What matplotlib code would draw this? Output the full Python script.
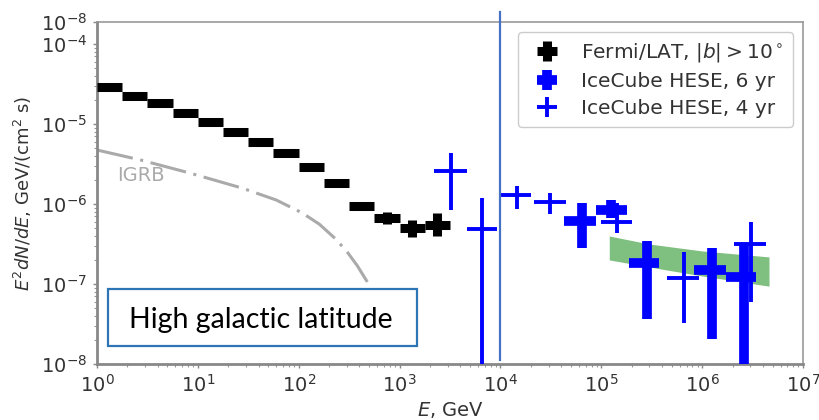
import matplotlib
matplotlib.use('Agg')
import matplotlib.pyplot as plt
import numpy as np
from matplotlib.patches import Rectangle
import matplotlib.transforms as mtransforms

# ---------------- data ----------------
# Fermi/LAT |b|>10 deg  (energy bin edges in GeV, flux E^2 dN/dE in GeV/(cm^2 s))
fermi_E_lo = [1.0, 1.78, 3.16, 5.62, 10.0, 17.8, 31.6, 56.2, 100, 178, 316, 562, 1000, 1780]
fermi_E_hi = [1.78, 3.16, 5.62, 10.0, 17.8, 31.6, 56.2, 100, 178, 316, 562, 1000, 1780, 3160]
fermi_flux = [2.9e-5, 2.24e-5, 1.82e-5, 1.38e-5, 1.06e-5, 7.9e-6, 5.96e-6, 4.36e-6,
              2.9e-6, 1.83e-6, 9.4e-7, 6.7e-7, 5.0e-7, 5.5e-7]
fermi_lo = [2.83e-5, 2.18e-5, 1.77e-5, 1.34e-5, 1.03e-5, 7.7e-6, 5.8e-6, 4.24e-6,
            2.82e-6, 1.77e-6, 9.0e-7, 5.7e-7, 3.9e-7, 3.96e-7]
fermi_hi = [2.97e-5, 2.3e-5, 1.87e-5, 1.42e-5, 1.09e-5, 8.1e-6, 6.1e-6, 4.48e-6,
            2.98e-6, 1.89e-6, 9.8e-7, 7.9e-7, 6.4e-7, 7.7e-7]

# IceCube HESE 6 yr
hese6_E = [6.5e4, 1.26e5, 2.85e5, 1.26e6, 2.6e6]
hese6_E_lo = [4.3e4, 8.9e4, 1.9e5, 8.3e5, 1.73e6]
hese6_E_hi = [8.9e4, 1.78e5, 3.7e5, 1.73e6, 3.4e6]
hese6_flux = [6.2e-7, 8.4e-7, 1.83e-7, 1.5e-7, 1.22e-7]
hese6_lo = [2.82e-7, 6.7e-7, 3.65e-8, 2.05e-8, 1e-9]
hese6_hi = [1.03e-6, 1.12e-6, 3.45e-7, 2.82e-7, 3.25e-7]

# IceCube HESE 4 yr
hese4_E = [3.27e3, 6.6e3, 1.47e4, 3.13e4, 1.44e5, 6.6e5, 3.05e6]
hese4_E_lo = [2.2e3, 4.7e3, 1.02e4, 2.17e4, 1.0e5, 4.5e5, 2.09e6]
hese4_E_hi = [4.7e3, 9.3e3, 2.03e4, 4.5e4, 2.03e5, 9.3e5, 4.27e6]
hese4_flux = [2.58e-6, 4.87e-7, 1.3e-6, 1.06e-6, 5.96e-7, 1.2e-7, 3.16e-7]
hese4_lo = [8.4e-7, 1e-9, 8.66e-7, 7.5e-7, 4.34e-7, 3.25e-8, 5.96e-8]
hese4_hi = [4.34e-6, 1.19e-6, 1.68e-6, 1.37e-6, 1.03e-6, 2.5e-7, 5.96e-7]

# Green fit band
band_E = [1.2e5, 3.0e5, 1.0e6, 4.6e6]
band_lo = [2.0e-7, 1.63e-7, 1.26e-7, 9.4e-8]
band_hi = [3.98e-7, 3.16e-7, 2.59e-7, 2.18e-7]

# IGRB curve
igrb_E = [1, 2.7, 8.3, 27.5, 60, 107, 160, 230, 300, 380, 479]
igrb_flux = [4.73e-6, 3.55e-6, 2.44e-6, 1.58e-6, 1.12e-6, 7.8e-7, 5.6e-7, 3.7e-7, 2.55e-7, 1.7e-7, 1.06e-7]

# axis ticks
ytick_vals = [1e-8, 1e-7, 1e-6, 1e-5, 1e-4]
ytick_labels = ['$10^{-8}$', '$10^{-7}$', '$10^{-6}$', '$10^{-5}$', '$10^{-4}$']
top_label = '$10^{-8}$'
divider_E = 1e4

# ---------------- plot ----------------
def errs(c, lo, hi):
    c = np.asarray(c, float)
    return [c - np.asarray(lo, float), np.asarray(hi, float) - c]

fig = plt.figure(figsize=(8.2, 4.2), dpi=100)
ax = fig.add_axes([97/820, 1-364/420, (803-97)/820, (364-22)/420])
ax.set_xscale('log')
ax.set_yscale('log')
ymax = 10**(-4 + 22/80)
ax.set_xlim(1, 1e7)
ax.set_ylim(1e-8, ymax)

ax.fill_between(band_E, band_lo, band_hi, color='green', alpha=0.5, lw=0, zorder=1)

ax.plot(igrb_E, igrb_flux, color='#aaaaaa', lw=2.2,
        linestyle=(0, (12, 2.5, 1, 2.5)), zorder=2)
ax.text(2.73, 2.3e-6, 'IGRB', color='#aaaaaa', fontsize=14, ha='center', va='center')

fE = np.sqrt(np.asarray(fermi_E_lo) * np.asarray(fermi_E_hi))
ax.errorbar(fE, fermi_flux, xerr=errs(fE, fermi_E_lo, fermi_E_hi),
            yerr=errs(fermi_flux, fermi_lo, fermi_hi), fmt='none',
            ecolor='black', elinewidth=6.5, capsize=0, zorder=3,
            label=r'Fermi/LAT, $|b|>10^\circ$')
ax.errorbar(hese6_E, hese6_flux, xerr=errs(hese6_E, hese6_E_lo, hese6_E_hi),
            yerr=errs(hese6_flux, hese6_lo, hese6_hi), fmt='none',
            ecolor='blue', elinewidth=7, capsize=0, zorder=3,
            label='IceCube HESE, 6 yr')
ax.errorbar(hese4_E, hese4_flux, xerr=errs(hese4_E, hese4_E_lo, hese4_E_hi),
            yerr=errs(hese4_flux, hese4_lo, hese4_hi), fmt='none',
            ecolor='blue', elinewidth=2.8, capsize=0, zorder=3,
            label='IceCube HESE, 4 yr')

ax.set_yticks(ytick_vals + [ymax])
ax.set_yticklabels(ytick_labels + [top_label])
ax.set_xlabel('$E$, GeV', fontsize=14, color='#333333', labelpad=3)
ax.set_ylabel('$E^2dN/dE$, GeV/(cm$^2$ s)', fontsize=13, color='#333333', labelpad=5)
ax.tick_params(which='major', labelsize=14, labelcolor='#333333', color='#888888',
               length=3, width=1, pad=4)
ax.tick_params(which='minor', color='#999999', length=2, width=0.8)
for side in ['left', 'bottom']:
    ax.spines[side].set_color('#888888')
    ax.spines[side].set_linewidth(2)
for side in ['top', 'right']:
    ax.spines[side].set_color('#999999')
    ax.spines[side].set_linewidth(1.2)

leg = ax.legend(loc='upper right', fontsize=14.5, frameon=True, framealpha=1,
                edgecolor='#cccccc', labelcolor='#333333', handletextpad=0.7,
                borderpad=0.45, labelspacing=0.4)

# overlay vertical line
trans = mtransforms.blended_transform_factory(ax.transData, fig.transFigure)
ax.plot([divider_E, divider_E], [1-360/420, 1-12/420], transform=trans,
        color='#4472c4', lw=1.6, clip_on=False, zorder=10)

# overlay text box
fig.patches.append(Rectangle((108/820, 1-346/420), (417-108)/820, (346-289)/420,
                             transform=fig.transFigure, facecolor='white',
                             edgecolor='#2e75b6', lw=1.6, zorder=5))
fig.text(261/820, 1-328/420, 'High galactic latitude', fontsize=20.5,
         family=['Lato', 'DejaVu Sans'], color='black', ha='center', va='baseline', zorder=6)

fig.savefig('out.png', dpi=100, facecolor='white')
